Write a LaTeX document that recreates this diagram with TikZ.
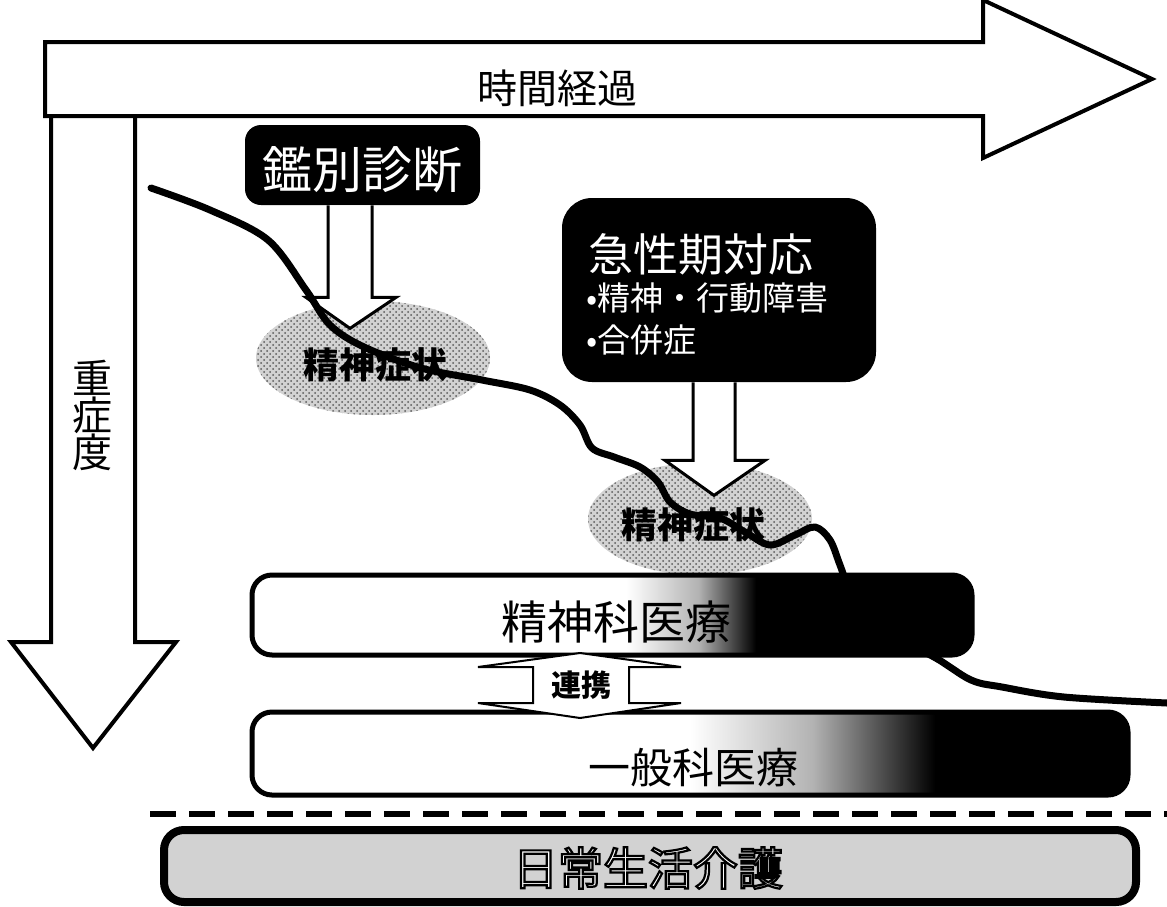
\documentclass[tikz,border=0pt]{standalone}
\usepackage{fontspec}
\setmainfont{Noto Sans CJK JP}
\usetikzlibrary{patterns,shapes.geometric,calc}
\pgfdeclarehorizontalshading{psyshade}{100bp}{color(0bp)=(white); color(51bp)=(white); color(56bp)=(gray!60); color(60bp)=(black); color(100bp)=(black)}
\pgfdeclarehorizontalshading{genshade}{100bp}{color(0bp)=(white); color(50bp)=(white); color(57bp)=(gray!60); color(64bp)=(black); color(100bp)=(black)}
\newcommand{\outlinedtext}[1]{{\color{white}\special{pdf:literal direct 0 0 0 RG 1.1 w 2 Tr}#1\special{pdf:literal direct 0 Tr}}}
\begin{document}
\begin{tikzpicture}[x=0.5pt,y=-0.5pt,
  bigarrow/.style={draw=black, line width=2pt, fill=white, line join=miter},
  hollow/.style={draw=black, line width=1.5pt, fill=white, line join=miter},
  blackbox/.style={fill=black, text=white, inner sep=0pt},
  medbox/.style={draw=black, line width=2.5pt, rounded corners=10pt, inner sep=0pt},
  sympt/.style={ellipse, inner sep=0pt, fill=gray!35, postaction={pattern=crosshatch dots, pattern color=gray!70!black}},
  symptxt/.style={font=\fontsize{18}{20}\selectfont\bfseries},
  curve/.style={line width=3.5pt, line cap=round, line join=round}]

\useasboundingbox (0,0) rectangle (1167,906);

% severity arrow
\draw[bigarrow] (51,116) -- (51,642) -- (11,642) -- (93,748) -- (176,642) -- (135,642) -- (135,116);
% time arrow
\draw[bigarrow] (45,42) -- (983,42) -- (983,0) -- (1152,79) -- (983,158) -- (983,116) -- (45,116) -- cycle;
\node (time) at (557,88) {\fontsize{20}{24}\selectfont 時間経過};
\node (sev) at (92,415) [align=center, font=\fontsize{20}{18.5}\selectfont] {重\\症\\度};

% symptom ellipses
\node[sympt, minimum width=117pt, minimum height=57pt] (e1) at (373,358) {};
\node[sympt, minimum width=112pt, minimum height=56pt] (e2) at (700,519) {};
\node[symptxt] (t1) at (375,365) {精神症状};
\node[symptxt] (t2) at (693,525) {精神症状};

% black boxes
\node[blackbox, rounded corners=8pt, minimum width=117.5pt, minimum height=40pt] (kb) at (362.5,165) {};
\node[text=white, font=\fontsize{25}{28}\selectfont] (kbt) at (362,170) {鑑別診断};
\node[blackbox, rounded corners=15pt, minimum width=157pt, minimum height=92pt] (ak) at (719,290) {};
\node[text=white, font=\fontsize{22.5}{26}\selectfont, anchor=west, inner sep=0pt] (akt) at (588,254) {急性期対応};
\node[text=white, font=\fontsize{16.5}{20}\selectfont, anchor=west, inner sep=0pt] (ak1) at (586,298) {•精神・行動障害};
\node[text=white, font=\fontsize{16.5}{20}\selectfont, anchor=west, inner sep=0pt] (ak2) at (586,340) {•合併症};

% hollow arrows
\begin{scope}[shift={(kb.south)}]
\draw[hollow] (-34.5,0) -- (-34.5,92) -- (-56.5,92) -- (-12.5,123) -- (33.5,92) -- (9.5,92) -- (9.5,0);
\end{scope}
\begin{scope}[shift={(ak.south)}]
\draw[hollow] (-26,0) -- (-26,78) -- (-54,78) -- (-5,113) -- (46,78) -- (16,78) -- (16,0);
\end{scope}

% course curve
\draw[curve] plot[smooth, tension=0.55] coordinates {(151,188) (210,210) (268,240) (306,290) (330,325) (364,347) (421,368) (482,380) (530,390) (560,405) (580,425) (592,448) (614,457) (640,467) (658,482) (670,502) (690,514) (720,518) (745,532) (770,545) (795,535) (815,527) (830,540) (840,565) (852,595) (880,630) (934,657) (971,680) (1002,687) (1064,697) (1167,703)};

% medical boxes
\node[medbox, shading=psyshade, minimum width=360pt, minimum height=40pt] (sk) at (612,615) {};
\node[font=\fontsize{23}{26}\selectfont] (skt) at (616,622) {精神科医療};
\node[medbox, shading=genshade, minimum width=438pt, minimum height=41.5pt] (gk) at (690,753.5) {};
\node[font=\fontsize{21}{24}\selectfont] (gkt) at (693,768) {一般科医療};

% cooperation arrow
\coordinate (rkc) at (581,685);
\begin{scope}[shift={(rkc)}]
\draw[draw=black, line width=1pt, fill=white, line join=miter] (-1,-32) -- (100,-18) -- (48,-18) -- (48,18) -- (100,18) -- (-1,33) -- (-103,18) -- (-48,18) -- (-48,-18) -- (-103,-18) -- cycle;
\end{scope}
\node[font=\fontsize{15}{17}\selectfont\bfseries] (rk) at (rkc) {連携};

% dashed separator
\coordinate (dl) at (150,814);
\coordinate (dr) at (1167,814);
\draw[line width=3pt, dash pattern=on 13pt off 6.5pt] (dl) -- (dr);

% care box
\node[draw=black, line width=4pt, rounded corners=10pt, fill=gray!35, minimum width=486pt, minimum height=36pt, inner sep=0pt] (nk) at (650,866) {};
\node[font=\fontsize{22.5}{26}\selectfont] (nkt) at (648,868) {\outlinedtext{日常生活介護}};
\end{tikzpicture}
\end{document}
